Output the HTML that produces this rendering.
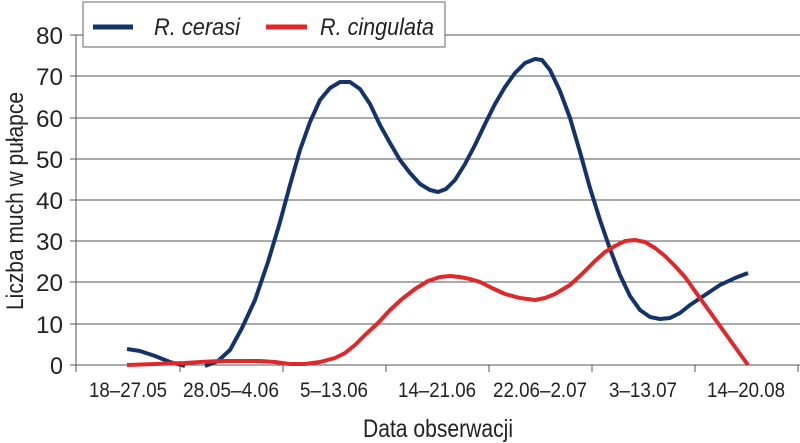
<!DOCTYPE html>
<html><head><meta charset="utf-8"><style>html,body{margin:0;padding:0;background:#fff}svg{display:block}</style></head>
<body>
<svg width="800" height="443" viewBox="0 0 800 443" xmlns="http://www.w3.org/2000/svg" font-family="Liberation Sans, sans-serif">
<g stroke="#555" stroke-width="1">
<line x1="77" y1="35" x2="800" y2="35"/><line x1="77" y1="76" x2="800" y2="76"/><line x1="77" y1="118" x2="800" y2="118"/><line x1="77" y1="159" x2="800" y2="159"/><line x1="77" y1="200" x2="800" y2="200"/><line x1="77" y1="241" x2="800" y2="241"/><line x1="77" y1="282" x2="800" y2="282"/><line x1="77" y1="324" x2="800" y2="324"/><line x1="70" y1="365" x2="800" y2="365"/>
<line x1="76" y1="35" x2="76" y2="372"/>
<line x1="70" y1="35" x2="77" y2="35"/><line x1="70" y1="76" x2="77" y2="76"/><line x1="70" y1="118" x2="77" y2="118"/><line x1="70" y1="159" x2="77" y2="159"/><line x1="70" y1="200" x2="77" y2="200"/><line x1="70" y1="241" x2="77" y2="241"/><line x1="70" y1="282" x2="77" y2="282"/><line x1="70" y1="324" x2="77" y2="324"/>
<line x1="180" y1="365" x2="180" y2="372"/><line x1="283" y1="365" x2="283" y2="372"/><line x1="386" y1="365" x2="386" y2="372"/><line x1="489" y1="365" x2="489" y2="372"/><line x1="592" y1="365" x2="592" y2="372"/><line x1="695" y1="365" x2="695" y2="372"/><line x1="798" y1="365" x2="798" y2="372"/>
</g>
<g font-size="24" fill="#222" text-anchor="end">
<text x="63" y="44" textLength="27" lengthAdjust="spacingAndGlyphs">80</text><text x="63" y="85" textLength="27" lengthAdjust="spacingAndGlyphs">70</text><text x="63" y="127" textLength="27" lengthAdjust="spacingAndGlyphs">60</text><text x="63" y="168" textLength="27" lengthAdjust="spacingAndGlyphs">50</text><text x="63" y="209" textLength="27" lengthAdjust="spacingAndGlyphs">40</text><text x="63" y="250" textLength="27" lengthAdjust="spacingAndGlyphs">30</text><text x="63" y="291" textLength="27" lengthAdjust="spacingAndGlyphs">20</text><text x="63" y="333" textLength="27" lengthAdjust="spacingAndGlyphs">10</text><text x="63" y="374" textLength="13" lengthAdjust="spacingAndGlyphs">0</text>
</g>
<g font-size="21" fill="#222" text-anchor="middle">
<text x="128" y="397" textLength="78" lengthAdjust="spacingAndGlyphs">18–27.05</text><text x="231" y="397" textLength="96" lengthAdjust="spacingAndGlyphs">28.05–4.06</text><text x="334" y="397" textLength="68" lengthAdjust="spacingAndGlyphs">5–13.06</text><text x="437" y="397" textLength="78" lengthAdjust="spacingAndGlyphs">14–21.06</text><text x="540" y="397" textLength="94" lengthAdjust="spacingAndGlyphs">22.06–2.07</text><text x="643" y="397" textLength="68" lengthAdjust="spacingAndGlyphs">3–13.07</text><text x="746" y="397" textLength="78" lengthAdjust="spacingAndGlyphs">14–20.08</text>
</g>
<text x="438" y="437" font-size="25" fill="#222" text-anchor="middle" textLength="150" lengthAdjust="spacingAndGlyphs">Data obserwacji</text>
<text transform="translate(23,201) rotate(-90)" font-size="24" fill="#222" text-anchor="middle" textLength="218" lengthAdjust="spacingAndGlyphs">Liczba much w pułapce</text>
<polyline fill="none" stroke="#15336b" stroke-width="4" stroke-linejoin="round" stroke-linecap="butt" points="127,349 140,351 155,356 170,362 185,366"/>
<polyline fill="none" stroke="#15336b" stroke-width="4" stroke-linejoin="round" points="205,366 218,361 230,350 242,328 255,300 268,262 280,222 290,185 300,150 310,122 320,100 330,88 340,82 350,82 360,89 370,104 380,125 390,143 400,160 410,173 420,184 430,190 438,192 446,189 455,180 465,164 475,145 485,124 495,104 505,87 515,73 525,63 535,59 542,60 550,70 560,91 570,118 580,152 590,188 600,220 610,249 620,275 630,296 640,310 650,317 660,319 670,318 680,313 690,305 705,295 720,285 735,278 748,273"/>
<polyline fill="none" stroke="#e0282a" stroke-width="4" stroke-linejoin="round" points="127,365 155,364 185,363 200,362 220,361 240,361 260,361 275,362 290,364 305,364 320,362 335,358 345,353 355,345 365,335 378,323 390,310 402,299 415,289 428,281 440,277 450,276 460,277 470,279 480,282 492,288 505,294 520,298 535,300 545,298 555,294 570,285 582,274 595,261 605,252 615,246 625,241 635,240 645,242 655,248 665,256 675,266 685,277 697,294 710,312 720,326 730,340 740,354 748,365"/>
<rect x="83" y="2" width="362" height="45" fill="#fff" stroke="#666" stroke-width="1"/>
<line x1="93" y1="27" x2="133" y2="27" stroke="#15336b" stroke-width="5"/>
<text x="154" y="35" font-size="24" font-style="italic" fill="#222" textLength="86" lengthAdjust="spacingAndGlyphs">R. cerasi</text>
<line x1="266" y1="27" x2="307" y2="27" stroke="#e0282a" stroke-width="5"/>
<text x="320" y="35" font-size="24" font-style="italic" fill="#222" textLength="114" lengthAdjust="spacingAndGlyphs">R. cingulata</text>
</svg>
</body></html>
